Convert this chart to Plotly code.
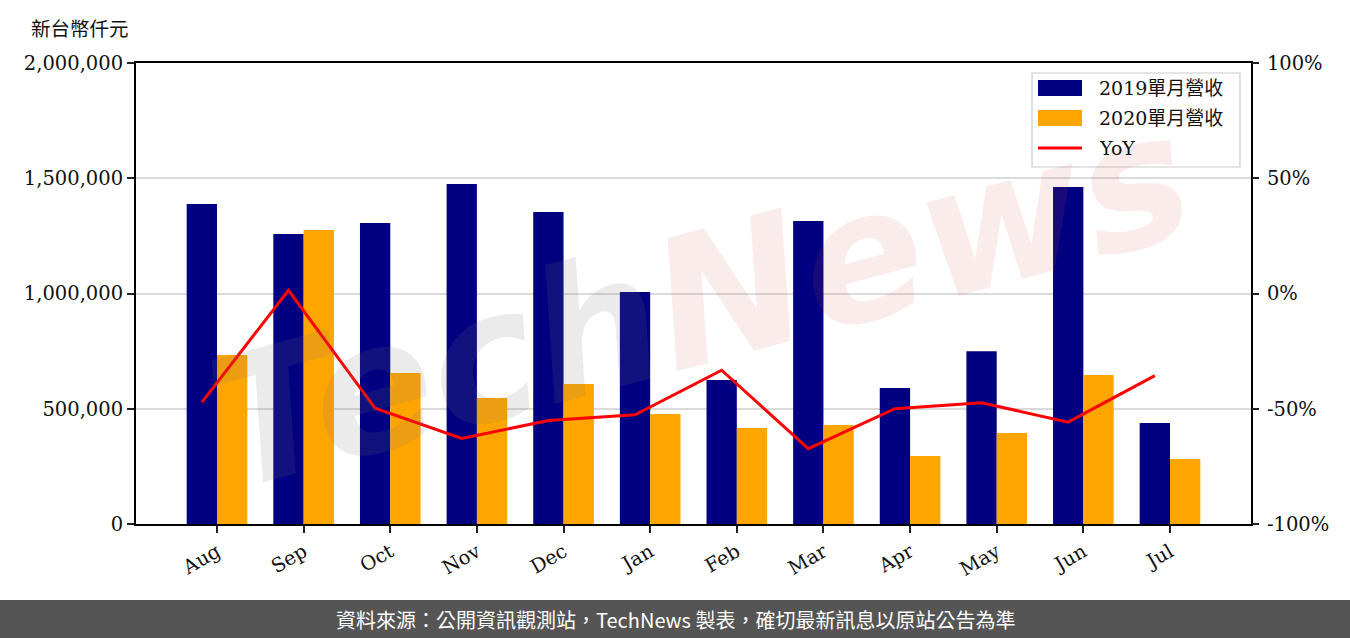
import plotly.graph_objects as go

months = ["Aug", "Sep", "Oct", "Nov", "Dec", "Jan", "Feb", "Mar", "Apr", "May", "Jun", "Jul"]
rev_2019 = [1388000, 1258000, 1306000, 1475000, 1354000, 1006000, 625000, 1314000, 590000, 750000, 1462000, 438000]
rev_2020 = [733000, 1275000, 655000, 547000, 607000, 477000, 416000, 430000, 295000, 395000, 646000, 282000]
yoy = [-0.472, 0.014, -0.498, -0.629, -0.551, -0.526, -0.333, -0.673, -0.500, -0.474, -0.558, -0.356]

left_ticks = [0, 500000, 1000000, 1500000, 2000000]
right_ticks = [-1, -0.5, 0, 0.5, 1]
right_labels = ["-100%", "-50%", "0%", "50%", "100%"]

names = ["2019單月營收", "2020單月營收", "YoY"]
colors = ["#000080", "#FFA500", "#FF0000"]

idx = list(range(len(months)))
bw = 0.35
serif = "DejaVu Serif, Noto Sans CJK TC"
cjk = "Noto Sans CJK TC, sans-serif"

W, H = 1350, 638
L, T, R, B = 136, 63, 1251, 524
pw, ph = R - L, B - T


def px(x):
    return (x - L) / pw


def py(y):
    return (B - y) / ph


fig = go.Figure()
fig.add_trace(go.Bar(x=idx, y=rev_2019, width=bw, offset=-bw, marker_color=colors[0],
                     marker_line_width=0, name=names[0], showlegend=False))
fig.add_trace(go.Bar(x=idx, y=rev_2020, width=bw, offset=0, marker_color=colors[1],
                     marker_line_width=0, name=names[1], showlegend=False))
fig.add_trace(go.Scatter(x=[i - bw / 2 for i in idx], y=yoy, mode="lines", yaxis="y2",
                         line=dict(color=colors[2], width=3), name=names[2], showlegend=False))

fig.update_layout(
    width=W, height=H,
    margin=dict(l=L, r=W - R, t=T, b=H - B),
    paper_bgcolor="white", plot_bgcolor="white",
    font=dict(family=serif, size=18, color="#111"),
    showlegend=False,
    xaxis=dict(range=[-0.935, 11.935], tickmode="array", tickvals=idx, ticktext=months,
               tickangle=-30, ticks="outside", ticklen=7, tickwidth=2, tickcolor="#222",
               showline=True, linecolor="black", linewidth=2, mirror=True,
               showgrid=False, zeroline=False, tickfont=dict(family=serif, size=19.5)),
    yaxis=dict(range=[0, 2000000], tickmode="array", tickvals=left_ticks, tickformat=",",
               ticks="outside", ticklen=7, tickwidth=2, tickcolor="#222",
               showline=True, linecolor="black", linewidth=2, mirror=True,
               showgrid=True, gridcolor="#dadada", gridwidth=1.5, zeroline=False,
               tickfont=dict(family=serif, size=19.5)),
    yaxis2=dict(range=[-1, 1], overlaying="y", side="right", tickmode="array",
                tickvals=right_ticks, ticktext=right_labels,
                ticks="outside", ticklen=7, tickwidth=2, tickcolor="#222",
                showgrid=False, zeroline=False, showline=False, ticklabelstandoff=4,
                tickfont=dict(family=serif, size=19.5)),
)

# watermark
fig.add_annotation(xref="paper", yref="paper", x=px(700), y=py(300), showarrow=False, textangle=-15,
                   text="<b><i><span style='color:rgba(120,120,120,0.15)'>Tech</span>"
                        "<span style='color:rgba(215,80,80,0.11)'>News</span></i></b>",
                   font=dict(family="DejaVu Sans", size=180))

# manual legend
fig.add_shape(type="rect", xref="paper", yref="paper", x0=px(1032), x1=px(1240), y0=py(167), y1=py(73),
              fillcolor="rgba(255,255,255,0.85)", line=dict(color="#cccccc", width=1.2), layer="above")
rows = [88, 118, 148]
for k in range(3):
    yy = rows[k]
    if k < 2:
        fig.add_shape(type="rect", xref="paper", yref="paper", x0=px(1038), x1=px(1082),
                      y0=py(yy + 8), y1=py(yy - 8), fillcolor=colors[k], line_width=0, layer="above")
    else:
        fig.add_shape(type="line", xref="paper", yref="paper", x0=px(1038), x1=px(1082),
                      y0=py(yy), y1=py(yy), line=dict(color=colors[k], width=3), layer="above")
    fig.add_annotation(xref="paper", yref="paper", x=px(1097), y=py(yy), xanchor="left", yanchor="middle",
                       showarrow=False, text=names[k], font=dict(family=serif, size=19, color="#111"))

# unit label
fig.add_annotation(xref="paper", yref="paper", x=px(29), y=py(27), xanchor="left", yanchor="middle",
                   showarrow=False, text="新台幣仟元", font=dict(family=cjk, size=19.5, color="#111"))

# footer banner
fig.add_shape(type="rect", xref="paper", yref="paper", x0=px(-20), x1=px(W + 20),
              y0=py(650), y1=py(600), fillcolor="#555555", line_width=0, layer="above")
fig.add_annotation(xref="paper", yref="paper", x=px(675), y=py(619),
                   xanchor="center", yanchor="middle", showarrow=False,
                   text="資料來源：公開資訊觀測站，TechNews 製表，確切最新訊息以原站公告為準",
                   font=dict(family=cjk, size=20, color="white"))

fig.write_html("out.html", config={"displayModeBar": False},
               post_script="document.body.style.margin='0';document.body.style.overflow='hidden';")
